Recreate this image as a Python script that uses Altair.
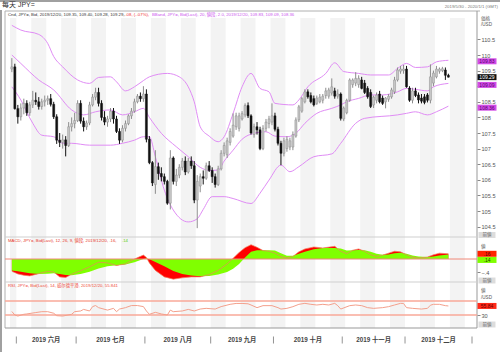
import altair as alt
import pandas as pd

# ---------------- data ----------------
opens = [109.55,109.62,108.28,108.02,108.30,108.45,108.15,108.40,108.55,108.50,
         108.35,108.50,108.55,108.60,108.42,108.02,107.27,107.20,107.28,107.10,
         107.70,107.80,107.90,108.45,107.88,107.70,107.82,108.40,108.65,108.80,
         108.45,108.00,107.85,107.95,108.20,107.95,107.55,107.27,107.65,107.80,
         108.05,108.20,108.50,108.68,108.60,108.75,107.30,106.55,105.85,106.42,
         106.20,106.10,105.95,105.25,106.70,105.95,106.15,106.40,106.60,106.25,
         106.60,106.45,105.35,105.80,106.10,106.05,106.45,106.30,106.10,105.85,
         106.35,106.85,106.80,107.20,107.40,107.70,107.65,107.95,108.08,108.38,
         108.05,107.45,107.70,107.60,107.00,107.65,107.80,107.85,108.05,107.62,
         107.17,106.85,107.00,107.05,107.05,107.40,107.92,108.20,108.50,108.82,
         108.70,108.60,108.45,108.50,108.55,108.70,108.68,108.78,108.85,108.68,
         108.75,107.95,108.15,108.55,109.05,109.10,109.05,109.20,109.10,108.93,
         108.80,108.40,108.55,108.75,108.62,108.50,108.58,108.66,108.82,109.20,
         109.48,109.50,109.55,108.94,108.55,108.85,108.72,108.62,108.66,108.72,
         108.55,109.10,109.30,109.48,109.50,109.52,109.35]
highs = [109.90,109.72,108.40,108.45,108.60,108.55,108.50,108.85,108.80,108.65,
         108.60,108.70,108.70,108.75,108.50,108.10,107.50,107.45,107.40,107.85,
         108.00,108.15,108.55,108.55,108.00,107.90,108.50,108.75,108.95,108.95,
         108.55,108.20,108.05,108.30,108.30,108.05,107.65,107.75,107.90,108.10,
         108.30,108.60,108.75,108.80,109.00,108.90,107.40,106.60,106.95,106.55,
         106.40,106.20,106.00,106.95,106.75,106.35,106.50,106.70,106.75,106.70,
         106.75,106.60,106.15,106.20,106.30,106.55,106.60,106.40,106.20,106.45,
         106.95,107.20,107.35,107.65,108.13,108.15,108.15,108.20,108.45,108.48,
         108.10,107.80,107.85,107.70,107.75,107.95,108.05,108.45,108.15,107.70,
         107.25,107.35,107.40,107.35,107.55,108.00,108.40,108.65,108.90,108.90,
         108.80,108.70,108.70,108.75,108.75,108.95,108.95,109.25,108.95,108.90,
         108.80,108.35,108.60,109.25,109.25,109.45,109.35,109.30,109.20,109.00,
         108.90,108.70,108.80,108.85,108.70,108.65,108.75,108.95,109.30,109.60,
         109.65,109.68,109.65,109.00,108.95,108.95,108.80,108.75,108.75,108.78,
         109.70,109.50,109.65,109.60,109.62,109.60,109.40]
lows = [109.45,108.25,107.80,107.90,108.10,108.05,108.05,108.30,108.40,108.25,
        108.25,108.35,108.40,108.35,107.95,107.15,107.05,107.00,106.75,107.05,
        107.55,107.65,107.85,107.80,107.55,107.60,107.75,108.35,108.55,108.35,
        107.90,107.75,107.70,107.85,107.80,107.50,107.15,107.20,107.55,107.75,
        107.95,108.15,108.45,108.50,108.50,107.20,106.50,105.80,105.55,106.00,
        105.95,105.85,105.20,105.05,105.85,105.80,106.05,106.30,106.15,106.20,
        106.35,105.25,104.45,105.60,105.85,106.00,106.25,105.90,105.75,105.80,
        106.30,106.75,106.70,107.10,107.35,107.60,107.55,107.90,108.00,107.98,
        107.45,107.35,107.45,106.95,106.95,107.55,107.65,107.75,107.55,107.10,
        106.47,106.75,106.90,106.95,106.95,107.35,107.85,108.15,108.45,108.60,
        108.45,108.35,108.40,108.45,108.45,108.60,108.60,108.70,108.60,108.60,
        107.90,107.88,108.10,108.50,108.95,109.00,108.95,108.90,108.75,108.60,
        108.30,108.30,108.45,108.45,108.40,108.29,108.50,108.60,108.75,109.15,
        109.40,109.40,108.95,108.50,108.45,108.65,108.45,108.45,108.42,108.48,
        108.45,109.00,109.25,109.40,109.45,109.20,109.28]
closes = [109.62,108.28,108.02,108.30,108.45,108.15,108.40,108.55,108.50,108.35,
          108.50,108.55,108.60,108.42,108.02,107.27,107.20,107.28,107.10,107.70,
          107.80,107.90,108.45,107.88,107.70,107.82,108.40,108.65,108.80,108.45,
          108.00,107.85,107.95,108.20,107.95,107.55,107.27,107.65,107.80,108.05,
          108.20,108.50,108.68,108.60,108.75,107.30,106.55,105.90,106.42,106.20,
          106.10,105.95,105.25,106.70,105.95,106.15,106.40,106.60,106.25,106.60,
          106.45,105.35,105.95,106.10,106.05,106.45,106.30,106.10,105.85,106.35,
          106.85,107.10,107.25,107.55,107.75,108.05,108.05,108.12,108.38,108.05,
          107.50,107.70,107.60,107.00,107.65,107.85,107.95,108.05,107.62,107.17,
          106.85,107.25,107.30,107.25,107.45,107.92,108.34,108.60,108.82,108.66,
          108.50,108.40,108.62,108.65,108.68,108.85,108.88,108.98,108.68,108.75,
          107.97,108.30,108.55,109.20,109.20,109.25,109.25,108.93,108.80,108.66,
          108.35,108.65,108.72,108.50,108.45,108.62,108.68,108.88,109.20,109.52,
          109.55,109.55,108.98,108.55,108.85,108.70,108.56,108.52,108.48,108.55,
          109.30,109.42,109.55,109.55,109.56,109.35,109.29]

upper_idx = [0,3,9,12,14,17,22,26,29,33,35,38,41,44,46,52,56,59,61,63,
             66,69,71,74,77,80,83,86,88,94,96,99,105,108,111,116,120,126,129,132,
             135,139,142,146]
upper_val = [110.95,110.80,110.66,110.37,109.95,109.62,109.20,109.09,109.28,109.30,
             109.14,108.85,108.98,109.18,109.30,109.41,109.30,108.98,108.50,107.70,
             107.40,107.22,107.38,108.13,108.98,109.41,108.93,108.82,108.45,108.40,
             108.56,108.98,109.41,109.75,109.47,109.41,109.36,109.36,109.57,109.73,
             109.60,109.62,109.78,109.83]
mid_idx = [0,3,9,14,20,24,28,33,37,41,44,46,50,55,59,63,66,69,71,74,
           77,81,85,88,92,95,98,102,107,110,112,116,120,124,129,132,135,139,141,146]
mid_val = [110.00,109.73,109.20,108.88,108.24,108.08,108.18,108.24,108.08,108.18,
           108.29,108.00,107.49,107.06,106.74,106.40,106.30,106.31,106.60,106.95,
           107.30,107.49,107.54,107.40,107.38,107.49,107.81,108.13,108.29,108.40,
           108.50,108.61,108.72,108.72,108.82,108.93,108.90,108.85,108.98,109.09]
lower_idx = [0,3,7,10,14,17,20,26,33,37,41,44,46,48,51,54,59,62,64,67,
             71,74,80,83,86,90,93,96,101,107,110,115,118,129,132,135,139,142,146]
lower_val = [108.98,108.56,107.81,107.43,107.38,107.17,107.17,107.11,107.11,107.17,
             107.27,107.38,107.38,106.74,105.67,105.03,104.65,104.75,105.05,105.46,
             105.46,105.40,105.24,105.57,105.99,106.47,106.26,106.42,106.74,106.83,
             107.17,107.81,107.97,108.08,108.13,108.18,108.08,108.18,108.36]

macd_idx = [0,2,4,6,9,12,14,16,18,20,23,26,29,32,35,38,41,44,45,46,
            48,51,54,57,60,63,66,69,72,74,76,78,80,82,84,86,88,90,92,94,
            96,98,101,104,108,110,112,114,116,118,120,122,124,126,128,130,132,134,136,139,
            141,143,146]
macd_val = [-0.38,-0.46,-0.50,-0.52,-0.45,-0.38,-0.40,-0.55,-0.57,-0.47,
            -0.36,-0.24,-0.10,-0.12,-0.20,-0.15,0.00,0.12,0.05,-0.12,
            -0.35,-0.55,-0.62,-0.58,-0.55,-0.55,-0.48,-0.35,-0.15,0.02,
            0.20,0.35,0.44,0.36,0.26,0.24,0.18,0.08,0.03,0.08,
            0.22,0.31,0.37,0.34,0.39,0.24,0.16,0.27,0.31,0.24,
            0.13,0.08,0.12,0.18,0.24,0.22,0.13,0.06,0.03,0.06,
            0.13,0.18,0.16]
signal_val = [-0.35,-0.38,-0.41,-0.44,-0.46,-0.45,-0.44,-0.46,-0.49,-0.50,
              -0.46,-0.39,-0.29,-0.22,-0.19,-0.17,-0.10,0.00,0.02,-0.01,
              -0.09,-0.22,-0.37,-0.46,-0.51,-0.53,-0.52,-0.48,-0.40,-0.30,
              -0.15,0.05,0.22,0.27,0.27,0.27,0.26,0.18,0.10,0.10,
              0.16,0.22,0.30,0.34,0.34,0.32,0.26,0.27,0.28,0.27,
              0.22,0.16,0.13,0.14,0.18,0.19,0.16,0.11,0.08,0.06,
              0.08,0.11,0.14]

rsi_idx = [0,1,2,4,5,8,10,12,14,15,17,20,21,23,24,26,27,28,29,32,
           34,35,36,38,40,42,44,45,46,48,50,52,53,54,57,59,61,63,65,68,
           70,73,75,77,79,80,82,84,87,89,90,92,94,96,98,100,102,104,106,108,
           109,110,113,115,117,119,121,124,126,128,130,131,132,134,137,139,140,141,143,145,
           146]
rsi_val = [40,30,27,32,33,37,39.5,39.5,35,28,27,32,39.5,41.5,46,41.5,54,57,51,44,
           49,39.5,47,51,57,57,54,41.5,32,37.6,33,30,44,39.5,41.5,46,41.5,47,49,47,
           54,60.5,63,63,62,58.6,51,56.7,56.7,51,47,49,53.8,60.5,63.3,60.5,58.6,60.5,58.6,63.3,
           56.7,47,56.7,58.6,56.7,51,49,51,53.8,58.6,63.3,63,51,49,47,49,58,60.5,60.5,56.7,
           55.84]

tick_days = ['03','10','17','24','01','08','15','22','29','05','12','19','26',
             '02','09','16','23','30','07','14','21','28','04','11','18','25',
             '02','09','16','23','30']
month_names = ['2019 六月','2019 七月','2019 八月','2019 九月','2019 十月','2019 十一月','2019 十二月']
month_bounds = [1.5, 21.5, 44.5, 66.5, 87.5, 110.5, 131.5, 153.9]
price_ticks = [104.5, 105, 105.5, 106, 106.5, 107, 107.5, 108, 108.5, 109, 109.5, 110, 110.5]

# ---------------- layout ----------------
FONT = "Liberation Sans, Noto Sans CJK JP, sans-serif"
I0, I1 = -0.62, 153.9
xs = alt.Scale(domain=[I0, I1], range=[5, 477], nice=False, zero=False)
py = alt.Scale(domain=[104.5, 110.5], range=[226.6, 39.4], nice=False, zero=False)
my = alt.Scale(domain=[-0.4, 0.4], range=[272.0, 246.0], nice=False, zero=False)
ry = alt.Scale(domain=[0, 100], range=[325.5, 290.5], nice=False, zero=False)

def X(f):
    return alt.X(f"{f}:Q", scale=xs, axis=None)

dummy = pd.DataFrame({"a": [0]})
layers = []

# weekly stripes
st_s, st_e = [], []
for k in range(-1, 31, 2):
    s, e = 1.5 + 5 * k, 6.5 + 5 * k
    st_s.append(max(s, I0)); st_e.append(min(e, I1))
stripes = pd.DataFrame({"s": st_s, "e": st_e})
xaxis = alt.Axis(orient="bottom", offset=-24, values=[2 + 5 * k for k in range(31)],
                 labelExpr="[" + ",".join(f"'{d}'" for d in tick_days) + "][round((datum.value-2)/5)]",
                 tickSize=2, tickColor="#999", labelColor="#666", labelFontSize=5.3,
                 labelPadding=1, domain=False, grid=False, title=None, labelFont=FONT,
                 labelFlush=False, labelOverlap=False)
layers.append(alt.Chart(stripes).mark_rect(color="#f3f3f3").encode(
    x=alt.X("s:Q", scale=xs, axis=xaxis), x2="e:Q", y=alt.value(18), y2=alt.value(328)))

def hrule(x1, x2, y, color, w=1):
    return alt.Chart(dummy).mark_rule(color=color, strokeWidth=w).encode(
        x=alt.value(x1), x2=alt.value(x2), y=alt.value(y))

def vrule(x, y1, y2, color, w=1):
    return alt.Chart(dummy).mark_rule(color=color, strokeWidth=w).encode(
        x=alt.value(x), y=alt.value(y1), y2=alt.value(y2))

# frame
layers += [hrule(0, 500, 1, "#a0a0a0", 2), hrule(5, 480, 11, "#b0b0b0"),
           vrule(5, 11, 328, "#b0b0b0"), vrule(477, 11, 328, "#999"),
           vrule(1, 10, 352, "#a0a0a0", 2),
           hrule(5, 477, 237, "#cfcfcf"), hrule(5, 477, 282, "#cfcfcf"),
           hrule(5, 477, 328, "#999")]

# month labels and separators
mdf = pd.DataFrame({"name": month_names,
                    "c": [(month_bounds[j] + month_bounds[j + 1]) / 2 for j in range(7)]})
layers.append(alt.Chart(mdf).mark_text(fontSize=6.3, fontWeight="bold", color="#444", font=FONT,
                                       baseline="middle").encode(x=X("c"), y=alt.value(340), text="name:N"))
sdf = pd.DataFrame({"b": month_bounds})
layers.append(alt.Chart(sdf).mark_rule(color="#777", strokeWidth=0.8).encode(
    x=X("b"), y=alt.value(336.5), y2=alt.value(343.5)))

# Bollinger bands (price axis on the first one; the 109 label is hidden under the value boxes)
paxis = alt.Axis(orient="right", offset=-23, values=price_ticks,
                 labelExpr="datum.value == 109 ? '' : format(datum.value, '.1~f')",
                 tickSize=3, tickColor="#888",
                 labelColor="#555", labelFontSize=5.6, labelPadding=1, domain=False,
                 grid=False, title=None, labelFont=FONT)
for j, (ix, vv) in enumerate([(upper_idx, upper_val), (mid_idx, mid_val), (lower_idx, lower_val)]):
    d = pd.DataFrame({"i": ix, "v": vv})
    layers.append(alt.Chart(d).mark_line(color="#e08cf5", strokeWidth=1, interpolate="monotone").encode(
        x=X("i"), y=alt.Y("v:Q", scale=py, axis=paxis if j == 0 else None)))

# candles
cdf = pd.DataFrame({"i": list(range(len(opens))), "o": opens, "h": highs, "l": lows, "c": closes})
up = "datum.c >= datum.o"
layers.append(alt.Chart(cdf).mark_rule(strokeWidth=1).encode(
    x=X("i"), y=alt.Y("l:Q", scale=py, axis=None), y2="h:Q",
    color=alt.condition(up, alt.value("#8c8c8c"), alt.value("#111111"))))
layers.append(alt.Chart(cdf).mark_bar(width=2, strokeWidth=0.5).encode(
    x=X("i"), y=alt.Y("o:Q", scale=py, axis=None), y2="c:Q",
    fill=alt.condition(up, alt.value("#c8c8c8"), alt.value("#111111")),
    stroke=alt.condition(up, alt.value("#8c8c8c"), alt.value("#111111"))))

# MACD
mdd = pd.DataFrame({"i": macd_idx, "m": macd_val, "s": signal_val})
layers.append(alt.Chart(mdd).mark_area(color="#ff0000").encode(
    x=X("i"), y=alt.Y("m:Q", scale=my, axis=None), y2=alt.datum(0)))
layers.append(alt.Chart(mdd).mark_area(color="#80ff00").encode(
    x=X("i"), y=alt.Y("s:Q", scale=my, axis=None), y2=alt.datum(0)))
layers.append(alt.Chart(mdd).mark_line(color="#f08060", strokeWidth=0.7).encode(
    x=X("i"), y=alt.Y("m:Q", scale=my, axis=None)))
maxis = alt.Axis(orient="right", offset=-23, values=[-0.4],
                 labelExpr="replace(format(datum.value, '.1f'), '0.', '.')", tickSize=3,
                 tickColor="#888", labelColor="#555", labelFontSize=5.6, labelPadding=1,
                 domain=False, grid=False, title=None, labelFont=FONT)
layers.append(alt.Chart(pd.DataFrame({"z": [0]})).mark_rule(color="#f08878", strokeWidth=1).encode(
    y=alt.Y("z:Q", scale=my, axis=maxis), x=alt.value(5), x2=alt.value(477)))

# RSI
raxis = alt.Axis(orient="right", offset=-23, values=[30], labelExpr="format(datum.value, 'd')",
                 tickSize=3, tickColor="#888", labelColor="#555", labelFontSize=5.6,
                 labelPadding=1, domain=False, grid=False, title=None, labelFont=FONT)
layers.append(alt.Chart(pd.DataFrame({"r": [70, 30]})).mark_rule(color="#f8a898", strokeWidth=1.5).encode(
    y=alt.Y("r:Q", scale=ry, axis=raxis), x=alt.value(5), x2=alt.value(477)))
rdf = pd.DataFrame({"i": rsi_idx, "r": rsi_val})
layers.append(alt.Chart(rdf).mark_line(color="#f4a08c", strokeWidth=1).encode(
    x=X("i"), y=alt.Y("r:Q", scale=ry, axis=None)))

# text helpers
def label(text, x, y, size=4.3, color="#333", align="left", weight="normal"):
    return alt.Chart(dummy).mark_text(text=text, align=align, baseline="middle", fontSize=size,
                                      color=color, fontWeight=weight, font=FONT).encode(
        x=alt.value(x), y=alt.value(y))

def vbox(val, scale, fill, text, tcolor, yoff=0):
    d = pd.DataFrame({"v": [val], "t": [text]})
    b = alt.Chart(d).mark_tick(orient="horizontal", size=19, thickness=6, color=fill,
                               opacity=1, yOffset=yoff).encode(
        x=alt.value(487), y=alt.Y("v:Q", scale=scale, axis=None))
    t = alt.Chart(d).mark_text(fontSize=5.0, color=tcolor, align="center", baseline="middle",
                               yOffset=yoff, font=FONT).encode(
        x=alt.value(487), y=alt.Y("v:Q", scale=scale, axis=None), text="t:N")
    return [b, t]

def pbox(y, text="前値"):
    r = alt.Chart(dummy).mark_rect(color="#dcdcdc").encode(
        x=alt.value(478.5), x2=alt.value(495.5), y=alt.value(y - 3), y2=alt.value(y + 3))
    return [r, label(text, 487, y, 4.5, "#666", "center")]

layers += [
    label("每天 JPY=", 2, 5, 7, "#333"),
    label("2019/5/30 - 2020/1/1 (GMT)", 498, 7, 4.3, "#777", "right"),
    label("価格", 481, 19, 4.6, "#555"), label("/USD", 481, 25, 4.6, "#555"),
    label("Cnd, JPY=, Bid, 2019/12/20, 109.35, 109.40, 109.28, 109.29, ", 8, 15, 4.3, "#333"),
    label("-.08, (-.07%), ", 124, 15, 4.3, "#f03030"),
    label("BBand, JPY=, Bid(Last), 20, 値段, 2.0, 2019/12/20, 109.83, 109.09, 108.36", 152, 15, 4.3, "#cc55ee"),
    label("MACD, JPY=, Bid(Last), 12, 26, 9, 値段, 2019/12/20, .16, ", 8, 241, 4.3, "#e83a2a"),
    label(".14", 122, 241, 4.3, "#55cc00"),
    label("RSI, JPY=, Bid(Last), 14, 威尔德平滑, 2019/12/20, 55.841", 8, 285.5, 4.3, "#f04a3a"),
    label("値", 481, 247, 4.6, "#555"),
    label("値", 481, 291, 4.6, "#555"), label("/USD", 481, 297.5, 4.6, "#555"),
]
layers += vbox(109.83, py, "#d24ce6", "109.83", "#5a0070", 1)
layers += vbox(109.29, py, "#111111", "109.29", "#ffffff")
layers += vbox(109.09, py, "#d24ce6", "109.09", "#5a0070", 1.5)
layers += vbox(108.36, py, "#d24ce6", "108.36", "#5a0070", 1.5)
layers += vbox(0.16, my, "#ff2200", ".16", "#550000")
layers += vbox(0.14, my, "#80ff00", ".14", "#224400", 5.5)
layers += vbox(55.84, ry, "#ff2a1a", "55.84", "#660000")
layers += pbox(235) + pbox(280.5) + pbox(324.5)

chart = alt.layer(*layers).resolve_scale(y="independent").properties(
    width=500, height=352, padding=0, background="white",
    autosize=alt.AutoSizeParams(type="none")
).configure_view(stroke=None)

chart.save("out.html", embed_options={"renderer": "svg", "actions": False})
